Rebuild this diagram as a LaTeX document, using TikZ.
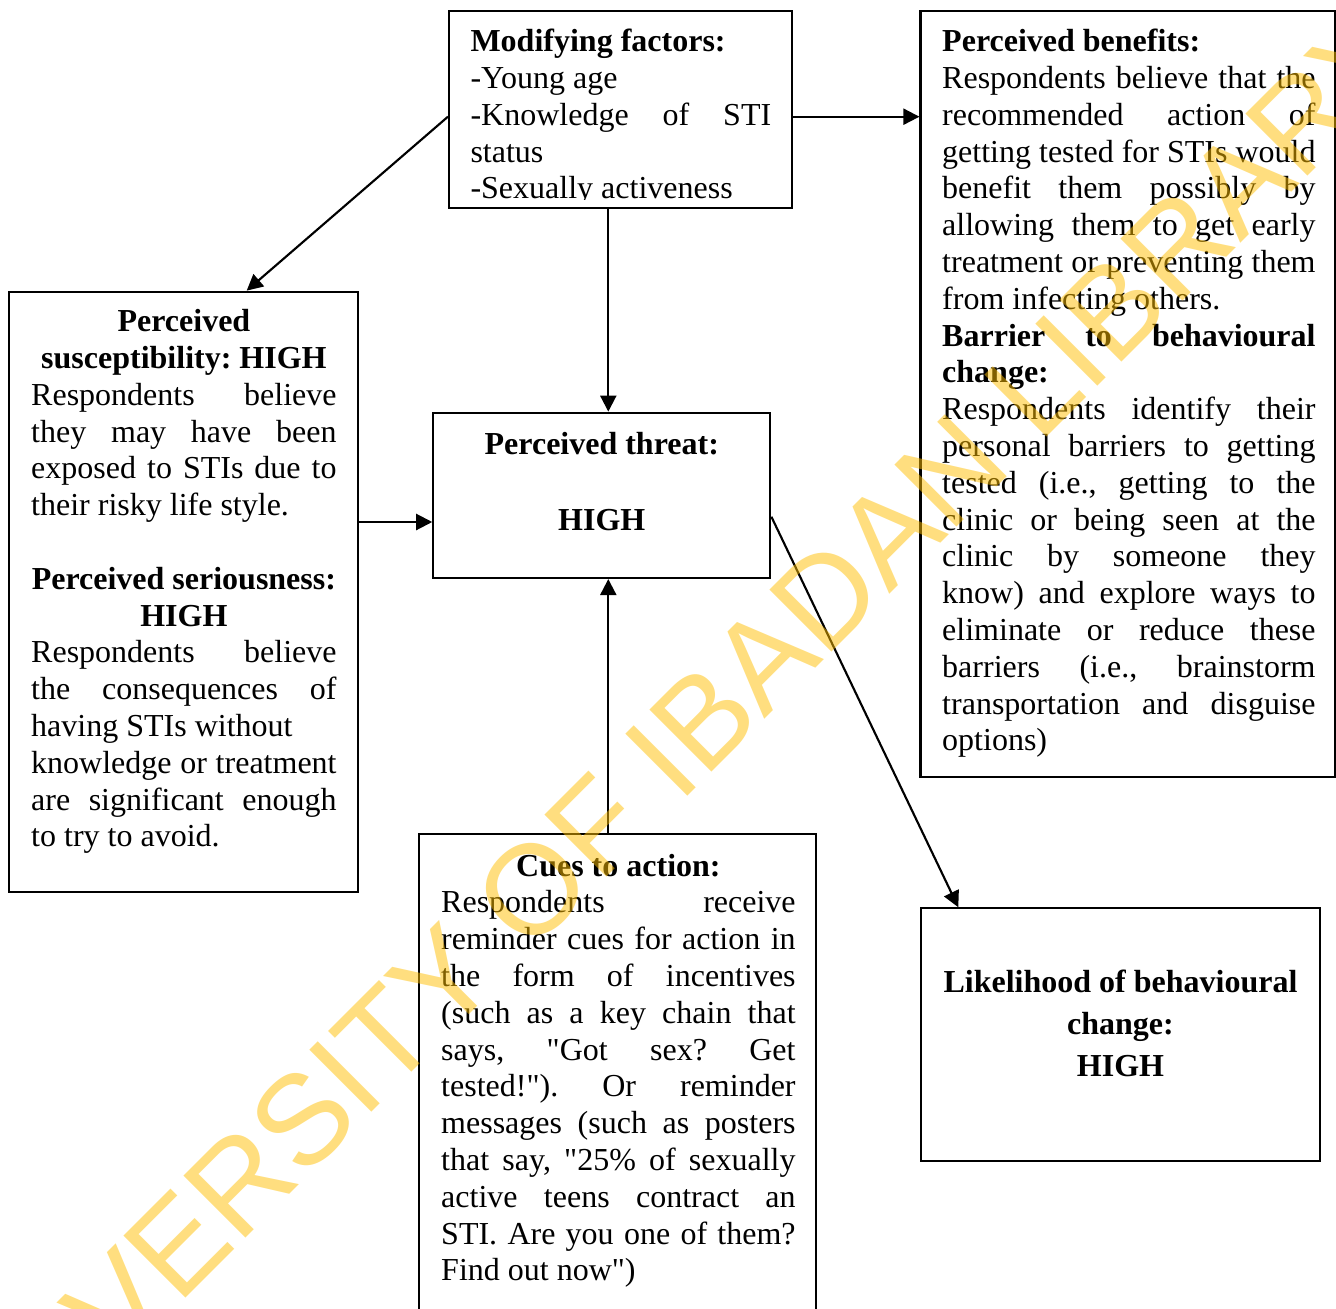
\documentclass[tikz,border=0pt]{standalone}
\usepackage{fontspec}
\setmainfont{Liberation Serif}[Ligatures=TeXOff]
\newfontfamily\wmfont{Liberation Sans}
\usetikzlibrary{arrows.meta,fit}
\definecolor{wmgold}{RGB}{255,190,0}
% justified and centred full-width lines
\newcommand{\jst}[1]{\makebox[\linewidth][s]{#1}}
\newcommand{\ctr}[1]{\makebox[\linewidth][c]{#1}}
\frenchspacing
\begin{document}
\begin{tikzpicture}[x=0.375pt,y=-0.375pt,
  box/.style={draw=black, line width=0.8pt, inner sep=0pt, rectangle},
  txt/.style={anchor=base west, inner sep=0pt, font=\fontsize{12}{13.8}\selectfont},
  ctxt/.style={anchor=base, inner sep=0pt, font=\fontsize{12}{13.8}\selectfont},
  arr/.style={draw=black, line width=0.8pt, -{Triangle[length=6pt,width=6pt]}},
  wm/.style={font=\wmfont\fontsize{47.8}{48}\selectfont, text=wmgold, opacity=0.5, inner sep=0pt}]
\useasboundingbox (0,0) rectangle (1336,1309);

% boxes
\node[box, fit={(449,10.7) (791.7,208.3)}] (mod) {};
\node[box, fit={(920.5,10.7) (1335,777.3)}] (ben) {};
\node[box, fit={(9.3,291.7) (357.7,891.7)}] (sus) {};
\node[box, fit={(433.3,412.7) (770.3,578)}] (thr) {};
\node[box, fit={(419.3,834) (816,1330)}] (cue) {};
\node[box, fit={(920.7,908.3) (1320.3,1161)}] (lik) {};

% modifying factors (text clipped at the inner margin)
\begin{scope}
\clip (449,10.7) rectangle (791.7,200);
\node[txt] (modtxt) at (470,51.7) {\parbox[t]{112.76pt}{%
\textbf{Modifying factors:}\\
-Young age\\
\jst{-Knowledge of STI}\\
status\\
-Sexually activeness}};
\end{scope}

% perceived benefits / barriers
\node[txt] (bentxt) at (941.7,51.7) {\parbox[t]{140pt}{%
\textbf{Perceived benefits:}\\
\jst{Respondents believe that the}\\
\jst{recommended action of}\\
\jst{getting tested for STIs would}\\
\jst{benefit them possibly by}\\
\jst{allowing them to get early}\\
\jst{treatment or preventing them}\\
from infecting others.\\
\jst{\bfseries Barrier to behavioural}\\
\textbf{change:}\\
\jst{Respondents identify their}\\
\jst{personal barriers to getting}\\
\jst{tested (i.e., getting to the}\\
\jst{clinic or being seen at the}\\
\jst{clinic by someone they}\\
\jst{know) and explore ways to}\\
\jst{eliminate or reduce these}\\
\jst{barriers (i.e., brainstorm}\\
\jst{transportation and disguise}\\
options)}};

% susceptibility and seriousness
\node[txt] (sustxt) at (30.7,331.7) {\parbox[t]{114.5pt}{%
\ctr{\bfseries Perceived}\\
\ctr{\bfseries susceptibility: HIGH}\\
\jst{Respondents believe}\\
\jst{they may have been}\\
\jst{exposed to STIs due to}\\
their risky life style.\\[13.8pt]
\ctr{\bfseries Perceived seriousness:}\\
\ctr{\bfseries HIGH}\\
\jst{Respondents believe}\\
\jst{the consequences of}\\
having STIs without\\
\jst{knowledge or treatment}\\
\jst{are significant enough}\\
to try to avoid.}};

% perceived threat
\node[ctxt] (thrtxt) at (601.8,454.7) {\parbox[t]{120pt}{\centering\bfseries
Perceived threat:\\[14.44pt]
HIGH}};

% cues to action
\node[txt] (cuetxt) at (440.7,876) {\parbox[t]{132.9pt}{%
\ctr{\bfseries Cues to action:}\\
\jst{Respondents receive}\\
\jst{reminder cues for action in}\\
\jst{the form of incentives}\\
\jst{(such as a key chain that}\\
\jst{says, "Got sex? Get}\\
\jst{tested!"). Or reminder}\\
\jst{messages (such as posters}\\
\jst{that say, "25\% of sexually}\\
\jst{active teens contract an}\\
\jst{STI. Are you one of them?}\\
Find out now")}};

% likelihood of behavioural change
\node[anchor=base, inner sep=0pt] (liktxt) at (1120.5,992) {\parbox[t]{145pt}{\centering\bfseries\fontsize{12}{15.75}\selectfont
Likelihood of behavioural\\
change:\\
HIGH}};

% connector positions
\coordinate (colx) at (608.3,0);
\coordinate (row1) at (0,116.7);
\coordinate (row2) at (0,522);
\coordinate (row3) at (0,516.7);
\coordinate (susx) at (246.7,0);
\coordinate (likx) at (958.3,0);

\draw[arr] (mod.west |- row1) -- (sus.north -| susx);
\draw[arr] (mod.east |- row1) -- (ben.west |- row1);
\draw[arr] (mod.south -| colx) -- (thr.north -| colx);
\draw[arr] (sus.east |- row2) -- (thr.west |- row2);
\draw[arr] (cue.north -| colx) -- (thr.south -| colx);
\draw[arr] (thr.east |- row3) -- (lik.north -| likx);

% watermark
\node[wm, rotate=45] (wmark) at (662.5,759.5) {UNIVERSITY OF IBADAN LIBRARY};
\end{tikzpicture}
\end{document}
